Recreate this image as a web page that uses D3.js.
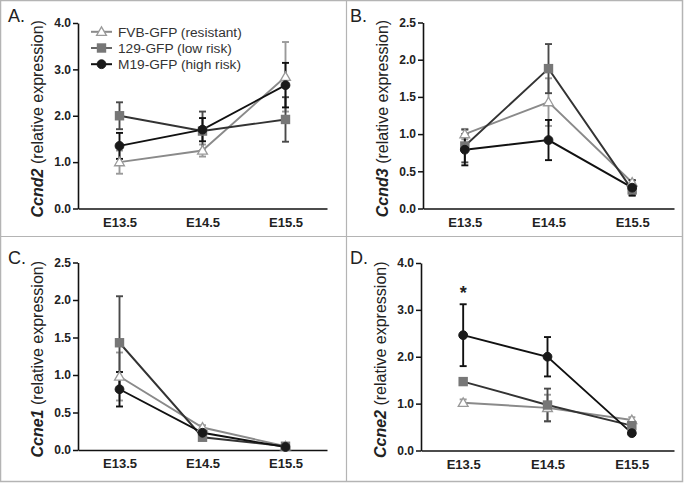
<!DOCTYPE html>
<html><head><meta charset="utf-8">
<script src="https://cdn.jsdelivr.net/npm/d3@7"></script>
<style>body{margin:0;background:#fff}svg{display:block;font-family:Arial,"Liberation Sans",sans-serif}</style>
</head><body><svg id="c" width="684" height="484"></svg>
<script>
const categories = ["E13.5","E14.5","E15.5"];
const seriesNames = ["FVB-GFP (resistant)","129-GFP (low risk)","M19-GFP (high risk)"];
const panelLetters = ["A.","B.","C.","D."];
const geneNames = ["Ccnd2","Ccnd3","Ccne1","Ccne2"];
const yMax = [4.0, 2.5, 2.5, 4.0];
const yTickLabelsA = ["0.0","1.0","2.0","3.0","4.0"];
const yTickLabelsB = ["0.0","0.5","1.0","1.5","2.0","2.5"];
// Ccnd2
const ccnd2FVB = [1.00,1.25,2.84], ccnd2FVBErr = [0.25,0.13,0.75];
const ccnd2129 = [2.00,1.67,1.92], ccnd2129Err = [0.29,0.42,0.48];
const ccnd2M19 = [1.35,1.70,2.66], ccnd2M19Err = [0.28,0.25,0.48];
// Ccnd3
const ccnd3FVB = [1.00,1.43,0.35], ccnd3FVBErr = [0.07,0.32,0.03];
const ccnd3129 = [0.84,1.88,0.25], ccnd3129Err = [0.22,0.33,0.08];
const ccnd3M19 = [0.79,0.92,0.28], ccnd3M19Err = [0.21,0.27,0.10];
// Ccne1
const ccne1FVB = [0.98,0.30,0.05], ccne1FVBErr = [0.32,0.03,0.01];
const ccne1129 = [1.43,0.17,0.05], ccne1129Err = [0.62,0.03,0.01];
const ccne1M19 = [0.81,0.23,0.04], ccne1M19Err = [0.23,0.03,0.01];
// Ccne2
const ccne2FVB = [1.02,0.91,0.65], ccne2FVBErr = [0.07,0.28,0.06];
const ccne2129 = [1.47,0.97,0.53], ccne2129Err = [0.07,0.35,0.10];
const ccne2M19 = [2.46,2.00,0.37], ccne2M19Err = [0.66,0.42,0.03];

const panelData = [
  [[ccnd2FVB,ccnd2FVBErr],[ccnd2129,ccnd2129Err],[ccnd2M19,ccnd2M19Err]],
  [[ccnd3FVB,ccnd3FVBErr],[ccnd3129,ccnd3129Err],[ccnd3M19,ccnd3M19Err]],
  [[ccne1FVB,ccne1FVBErr],[ccne1129,ccne1129Err],[ccne1M19,ccne1M19Err]],
  [[ccne2FVB,ccne2FVBErr],[ccne2129,ccne2129Err],[ccne2M19,ccne2M19Err]]
];
const tickSets = [yTickLabelsA, yTickLabelsB, yTickLabelsB, yTickLabelsA];

// layout
const panels = [
  {ox:0,   oy:0,   x0:78,  x1:327, yTop:23,  yBot:208.5},
  {ox:342, oy:0,   x0:423, x1:674, yTop:22.5,yBot:208.5},
  {ox:0,   oy:242, x0:78,  x1:327, yTop:262.5,yBot:450},
  {ox:342, oy:242, x0:421, x1:674, yTop:263, yBot:450.5}
];
const style = [
  {line:"#8a8a8a", err:"#9a9a9a", marker:"tri", fill:"#fff", stroke:"#9a9a9a"},
  {line:"#333", err:"#4a4a4a", marker:"sq", fill:"#777", stroke:"#777"},
  {line:"#111", err:"#111", marker:"circ", fill:"#1a1a1a", stroke:"#1a1a1a"}
];
const svg = d3.select("#c");
// frame
svg.append("rect").attr("x",0.5).attr("y",0.5).attr("width",682).attr("height",481)
  .attr("fill","none").attr("stroke","#b4b4b4").attr("stroke-width",1.5);
svg.append("line").attr("x1",346.5).attr("x2",346.5).attr("y1",0).attr("y2",482).attr("stroke","#b4b4b4").attr("stroke-width",1.2);
svg.append("line").attr("x1",0).attr("x2",683).attr("y1",236.5).attr("y2",236.5).attr("stroke","#b4b4b4").attr("stroke-width",1.2);

function drawMarker(g, type, x, y, s){
  if(type==="circ") g.append("circle").attr("cx",x).attr("cy",y).attr("r",4.4).attr("fill",s.fill).attr("stroke",s.stroke);
  else if(type==="sq") g.append("rect").attr("x",x-4.7).attr("y",y-4.7).attr("width",9.4).attr("height",9.4).attr("fill",s.fill);
  else g.append("path").attr("d",d3.symbol(d3.symbolTriangle,42)()).attr("transform",`translate(${x},${y+0.8})`)
        .attr("fill",s.fill).attr("stroke",s.stroke).attr("stroke-width",1.3);
}

panels.forEach((p,i)=>{
  const g = svg.append("g");
  const x = d3.scalePoint().domain(categories).range([p.x0,p.x1]).padding(0.5);
  const y = d3.scaleLinear().domain([0,yMax[i]]).range([p.yBot,p.yTop]);
  const ticks = tickSets[i].map(Number);
  const ya = g.append("g").attr("transform",`translate(${p.x0},0)`)
    .call(d3.axisLeft(y).tickValues(ticks).tickFormat((d,k)=>tickSets[i][k]).tickSize(5).tickSizeOuter(0).tickPadding(2));
  ya.select(".domain").attr("stroke","#111").attr("stroke-width",1.6);
  ya.selectAll(".tick line").attr("stroke","#111").attr("stroke-width",1.5);
  ya.selectAll("text").attr("font-size",12).attr("font-weight","bold").attr("fill","#222").attr("font-family","Arial,'Liberation Sans',sans-serif");
  const xa = g.append("g").attr("transform",`translate(0,${p.yBot})`)
    .call(d3.axisBottom(x).tickSize(0).tickPadding(9));
  xa.select(".domain").attr("stroke","#111").attr("stroke-width",1.6);
  xa.selectAll("text").attr("font-size",13).attr("font-weight","bold").attr("fill","#222").attr("font-family","Arial,'Liberation Sans',sans-serif");
  // panel letter
  g.append("text").attr("x",p.ox+8).attr("y",p.oy+22).attr("font-size",18).attr("fill","#222").text(panelLetters[i]);
  // y title
  const cy = (p.yTop+p.yBot)/2;
  const t = g.append("text").attr("transform",`translate(${p.x0-35},${cy+3}) rotate(-90)`)
    .attr("text-anchor","middle").attr("font-size",16).attr("fill","#222");
  t.append("tspan").attr("font-weight","bold").attr("font-style","italic").text(geneNames[i]);
  t.append("tspan").text(" (relative expression)");
  // series
  panelData[i].forEach(([vals,errs],si)=>{
    const s = style[si];
    const pts = categories.map((c,k)=>[x(c),y(vals[k])]);
    g.append("path").attr("d",d3.line()(pts)).attr("fill","none").attr("stroke",s.line).attr("stroke-width",1.9);
    categories.forEach((c,k)=>{
      const cx = x(c), top = y(vals[k]+errs[k]), bot = y(Math.max(0,vals[k]-errs[k]));
      g.append("line").attr("x1",cx).attr("x2",cx).attr("y1",top).attr("y2",bot).attr("stroke",s.err).attr("stroke-width",1.9);
      [top,bot].forEach(yy=>g.append("line").attr("x1",cx-3.5).attr("x2",cx+3.5).attr("y1",yy).attr("y2",yy).attr("stroke",s.err).attr("stroke-width",1.9));
    });
  });
  panelData[i].forEach(([vals],si)=>{
    categories.forEach((c,k)=>drawMarker(g, style[si].marker, x(c), y(vals[k]), style[si]));
  });
  if(i===3){
    g.append("text").attr("x",x(categories[0])).attr("y",y(ccne2M19[0]+ccne2M19Err[0])-5)
      .attr("text-anchor","middle").attr("font-size",18).attr("font-weight","bold").attr("fill","#222").text("*");
  }
  if(i===0){
    const leg = g.append("g");
    seriesNames.forEach((n,si)=>{
      const yy = 31.8 + si*16.2, s = style[si];
      leg.append("line").attr("x1",91).attr("x2",112).attr("y1",yy).attr("y2",yy)
        .attr("stroke", si===1 ? "#666" : s.line).attr("stroke-width",2);
      drawMarker(leg, s.marker, 101.5, yy, s);
      leg.append("text").attr("x",118).attr("y",yy+4.8).attr("font-size",13.7).attr("fill","#333").text(n);
    });
  }
});
</script></body></html>
